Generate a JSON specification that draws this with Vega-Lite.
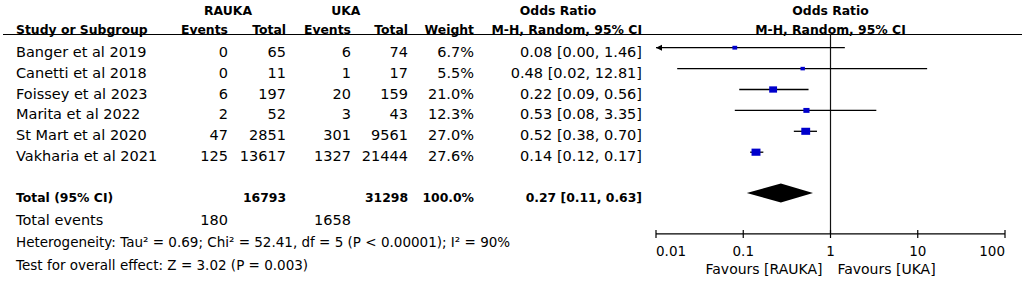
{
  "$schema": "https://vega.github.io/schema/vega-lite/v6.json",
  "width": 1022,
  "height": 283,
  "padding": 0,
  "autosize": "none",
  "background": "white",
  "config": {
    "view": {"stroke": null},
    "mark": {"color": "black"},
    "text": {"font": "DejaVu Sans", "fontSize": 14.5, "baseline": "middle", "dy": 5, "color": "black"},
    "rule": {"color": "black", "strokeWidth": 1.2}
  },
  "datasets": {
    "studies": [
      {"row": 1, "study": "Banger et al 2019", "e1": 0, "n1": 65, "e2": 6, "n2": 74, "weight": 0.067, "or": 0.08, "lo": 0.004, "hi": 1.46, "ci": "0.08 [0.00, 1.46]"},
      {"row": 2, "study": "Canetti et al 2018", "e1": 0, "n1": 11, "e2": 1, "n2": 17, "weight": 0.055, "or": 0.48, "lo": 0.0175, "hi": 12.81, "ci": "0.48 [0.02, 12.81]"},
      {"row": 3, "study": "Foissey et al 2023", "e1": 6, "n1": 197, "e2": 20, "n2": 159, "weight": 0.21, "or": 0.22, "lo": 0.09, "hi": 0.56, "ci": "0.22 [0.09, 0.56]"},
      {"row": 4, "study": "Marita et al 2022", "e1": 2, "n1": 52, "e2": 3, "n2": 43, "weight": 0.123, "or": 0.53, "lo": 0.08, "hi": 3.35, "ci": "0.53 [0.08, 3.35]"},
      {"row": 5, "study": "St Mart et al 2020", "e1": 47, "n1": 2851, "e2": 301, "n2": 9561, "weight": 0.27, "or": 0.52, "lo": 0.38, "hi": 0.70, "ci": "0.52 [0.38, 0.70]"},
      {"row": 6, "study": "Vakharia et al 2021", "e1": 125, "n1": 13617, "e2": 1327, "n2": 21444, "weight": 0.276, "or": 0.14, "lo": 0.12, "hi": 0.17, "ci": "0.14 [0.12, 0.17]"}
    ],
    "pooled": [
      {"row": 8, "label": "Total (95% CI)", "n1": 16793, "n2": 31298, "weight": 1.0, "or": 0.27, "lo": 0.11, "hi": 0.63, "ci": "0.27 [0.11, 0.63]"}
    ],
    "events": [
      {"row": 9, "label": "Total events", "e1": 180, "e2": 1658}
    ],
    "notes": [
      {"row": 10, "label": "Heterogeneity: Tau² = 0.69; Chi² = 52.41, df = 5 (P < 0.00001); I² = 90%"},
      {"row": 11, "label": "Test for overall effect: Z = 3.02 (P = 0.003)"}
    ],
    "groupHeaders": [
      {"row": -1, "col": 1, "label": "RAUKA"},
      {"row": -1, "col": 2.92, "label": "UKA"},
      {"row": -1, "col": 5.5, "label": "Odds Ratio"}
    ],
    "colHeaders": [
      {"row": 0, "col": 1, "label": "Events"},
      {"row": 0, "col": 2, "label": "Total"},
      {"row": 0, "col": 3, "label": "Events"},
      {"row": 0, "col": 4, "label": "Total"},
      {"row": 0, "col": 5, "label": "Weight"},
      {"row": 0, "col": 6, "label": "M-H, Random, 95% CI"}
    ],
    "rowHeaders": [
      {"row": 0, "label": "Study or Subgroup"}
    ],
    "plotHeaders": [
      {"row": -1, "label": "Odds Ratio"},
      {"row": 0, "label": "M-H, Random, 95% CI"}
    ],
    "nullLine": [{"or": 1}],
    "axisLine": [{"from": 0.01, "to": 100}],
    "ticks": [{"v": 0.01}, {"v": 0.1}, {"v": 1}, {"v": 10}, {"v": 100}],
    "favours": [
      {"side": "RAUKA", "label": "Favours [RAUKA]"},
      {"side": "UKA", "label": "Favours [UKA]"}
    ]
  },
  "resolve": {"scale": {"x": "independent"}},
  "layer": [
    {
      "layer": [
        {
          "data": {"name": "groupHeaders"},
          "mark": {"type": "text", "align": "center", "fontWeight": "bold", "fontSize": 12.4},
          "encoding": {
            "x": {"field": "col", "type": "quantitative", "axis": null, "scale": {"domain": [-1, 0, 1, 2, 3, 4, 5, 6, 7], "range": [3, 16, 228, 286, 351, 408, 474, 642, 1022], "zero": false, "nice": false}},
            "y": {"field": "row", "type": "quantitative", "axis": null, "scale": {"domain": [-1, 0, 0.5, 1, 6, 8, 11], "range": [5.5, 24.5, 34.5, 47.7, 152.2, 193, 260.5], "zero": false, "nice": false}},
            "text": {"field": "label", "type": "nominal"}
          }
        },
        {
          "data": {"name": "colHeaders"},
          "mark": {"type": "text", "align": "right", "fontWeight": "bold", "fontSize": 12.4},
          "encoding": {
            "x": {"field": "col", "type": "quantitative", "axis": null},
            "y": {"field": "row", "type": "quantitative", "axis": null},
            "text": {"field": "label", "type": "nominal"}
          }
        },
        {
          "data": {"name": "rowHeaders"},
          "mark": {"type": "text", "align": "left", "fontWeight": "bold", "fontSize": 12.4},
          "encoding": {
            "x": {"datum": 0, "axis": null},
            "y": {"field": "row", "type": "quantitative", "axis": null},
            "text": {"field": "label", "type": "nominal"}
          }
        },
        {
          "data": {"name": "studies"},
          "mark": {"type": "text", "align": "left"},
          "encoding": {
            "x": {"datum": 0, "axis": null},
            "y": {"field": "row", "type": "quantitative", "axis": null},
            "text": {"field": "study", "type": "nominal"}
          }
        },
        {
          "data": {"name": "studies"},
          "mark": {"type": "text", "align": "right"},
          "encoding": {
            "x": {"datum": 1, "axis": null},
            "y": {"field": "row", "type": "quantitative", "axis": null},
            "text": {"field": "e1", "type": "nominal"}
          }
        },
        {
          "data": {"name": "studies"},
          "mark": {"type": "text", "align": "right"},
          "encoding": {
            "x": {"datum": 2, "axis": null},
            "y": {"field": "row", "type": "quantitative", "axis": null},
            "text": {"field": "n1", "type": "nominal"}
          }
        },
        {
          "data": {"name": "studies"},
          "mark": {"type": "text", "align": "right"},
          "encoding": {
            "x": {"datum": 3, "axis": null},
            "y": {"field": "row", "type": "quantitative", "axis": null},
            "text": {"field": "e2", "type": "nominal"}
          }
        },
        {
          "data": {"name": "studies"},
          "mark": {"type": "text", "align": "right"},
          "encoding": {
            "x": {"datum": 4, "axis": null},
            "y": {"field": "row", "type": "quantitative", "axis": null},
            "text": {"field": "n2", "type": "nominal"}
          }
        },
        {
          "data": {"name": "studies"},
          "mark": {"type": "text", "align": "right"},
          "encoding": {
            "x": {"datum": 5, "axis": null},
            "y": {"field": "row", "type": "quantitative", "axis": null},
            "text": {"field": "weight", "type": "quantitative", "format": ".1%"}
          }
        },
        {
          "data": {"name": "studies"},
          "mark": {"type": "text", "align": "right"},
          "encoding": {
            "x": {"datum": 6, "axis": null},
            "y": {"field": "row", "type": "quantitative", "axis": null},
            "text": {"field": "ci", "type": "nominal"}
          }
        },
        {
          "data": {"name": "pooled"},
          "mark": {"type": "text", "align": "left", "fontWeight": "bold", "fontSize": 12.4},
          "encoding": {
            "x": {"datum": 0, "axis": null},
            "y": {"field": "row", "type": "quantitative", "axis": null},
            "text": {"field": "label", "type": "nominal"}
          }
        },
        {
          "data": {"name": "pooled"},
          "mark": {"type": "text", "align": "right", "fontWeight": "bold", "fontSize": 12.4},
          "encoding": {
            "x": {"datum": 2, "axis": null},
            "y": {"field": "row", "type": "quantitative", "axis": null},
            "text": {"field": "n1", "type": "nominal"}
          }
        },
        {
          "data": {"name": "pooled"},
          "mark": {"type": "text", "align": "right", "fontWeight": "bold", "fontSize": 12.4},
          "encoding": {
            "x": {"datum": 4, "axis": null},
            "y": {"field": "row", "type": "quantitative", "axis": null},
            "text": {"field": "n2", "type": "nominal"}
          }
        },
        {
          "data": {"name": "pooled"},
          "mark": {"type": "text", "align": "right", "fontWeight": "bold", "fontSize": 12.4},
          "encoding": {
            "x": {"datum": 5, "axis": null},
            "y": {"field": "row", "type": "quantitative", "axis": null},
            "text": {"field": "weight", "type": "quantitative", "format": ".1%"}
          }
        },
        {
          "data": {"name": "pooled"},
          "mark": {"type": "text", "align": "right", "fontWeight": "bold", "fontSize": 12.4},
          "encoding": {
            "x": {"datum": 6, "axis": null},
            "y": {"field": "row", "type": "quantitative", "axis": null},
            "text": {"field": "ci", "type": "nominal"}
          }
        },
        {
          "data": {"name": "events"},
          "mark": {"type": "text", "align": "left"},
          "encoding": {
            "x": {"datum": 0, "axis": null},
            "y": {"field": "row", "type": "quantitative", "axis": null},
            "text": {"field": "label", "type": "nominal"}
          }
        },
        {
          "data": {"name": "events"},
          "mark": {"type": "text", "align": "right"},
          "encoding": {
            "x": {"datum": 1, "axis": null},
            "y": {"field": "row", "type": "quantitative", "axis": null},
            "text": {"field": "e1", "type": "nominal"}
          }
        },
        {
          "data": {"name": "events"},
          "mark": {"type": "text", "align": "right"},
          "encoding": {
            "x": {"datum": 3, "axis": null},
            "y": {"field": "row", "type": "quantitative", "axis": null},
            "text": {"field": "e2", "type": "nominal"}
          }
        },
        {
          "data": {"name": "notes"},
          "mark": {"type": "text", "align": "left", "fontSize": 13.5},
          "encoding": {
            "x": {"datum": 0, "axis": null},
            "y": {"field": "row", "type": "quantitative", "axis": null},
            "text": {"field": "label", "type": "nominal"}
          }
        },
        {
          "data": {"values": [{"line": "header"}]},
          "mark": {"type": "rule", "strokeWidth": 1.2},
          "encoding": {
            "x": {"datum": -1, "axis": null},
            "x2": {"datum": 7},
            "y": {"datum": 0.5, "axis": null}
          }
        }
      ]
    },
    {
      "layer": [
        {
          "data": {"name": "nullLine"},
          "mark": {"type": "rule", "strokeWidth": 1.2, "color": "#111"},
          "encoding": {
            "x": {"field": "or", "type": "quantitative", "axis": null, "scale": {"type": "log", "domain": [0.01, 100], "range": [656, 1005], "clamp": true, "nice": false}},
            "y": {"datum": 0.5, "axis": null},
            "y2": {"datum": 9.82}
          }
        },
        {
          "data": {"name": "axisLine"},
          "mark": {"type": "rule", "strokeWidth": 1.2},
          "encoding": {
            "x": {"field": "from", "type": "quantitative", "axis": null},
            "x2": {"field": "to"},
            "y": {"datum": 9.82, "axis": null}
          }
        },
        {
          "data": {"name": "ticks"},
          "mark": {"type": "rule", "strokeWidth": 1.2},
          "encoding": {
            "x": {"field": "v", "type": "quantitative", "axis": null},
            "y": {"datum": 9.644, "axis": null},
            "y2": {"datum": 10.0}
          }
        },
        {
          "data": {"name": "ticks"},
          "transform": [{"filter": "datum.v === 0.01"}],
          "mark": {"type": "text", "align": "left", "fontSize": 13.5},
          "encoding": {
            "x": {"field": "v", "type": "quantitative", "axis": null},
            "y": {"datum": 10.39, "axis": null},
            "text": {"field": "v", "type": "quantitative", "format": "~g"}
          }
        },
        {
          "data": {"name": "ticks"},
          "transform": [{"filter": "datum.v > 0.01 && datum.v < 100"}],
          "mark": {"type": "text", "align": "center", "fontSize": 13.5},
          "encoding": {
            "x": {"field": "v", "type": "quantitative", "axis": null},
            "y": {"datum": 10.39, "axis": null},
            "text": {"field": "v", "type": "quantitative", "format": "~g"}
          }
        },
        {
          "data": {"name": "ticks"},
          "transform": [{"filter": "datum.v === 100"}],
          "mark": {"type": "text", "align": "right", "fontSize": 13.5},
          "encoding": {
            "x": {"field": "v", "type": "quantitative", "axis": null},
            "y": {"datum": 10.39, "axis": null},
            "text": {"field": "v", "type": "quantitative", "format": "~g"}
          }
        },
        {
          "data": {"name": "studies"},
          "mark": {"type": "rule", "strokeWidth": 1.3},
          "encoding": {
            "x": {"field": "lo", "type": "quantitative", "axis": null},
            "x2": {"field": "hi"},
            "y": {"field": "row", "type": "quantitative", "axis": null}
          }
        },
        {
          "data": {"name": "studies"},
          "transform": [{"filter": "datum.lo < 0.01"}],
          "mark": {"type": "point", "shape": "M0,0L2,-1L2,1Z", "filled": true, "opacity": 1, "color": "black", "size": 36},
          "encoding": {
            "x": {"field": "lo", "type": "quantitative", "axis": null},
            "y": {"field": "row", "type": "quantitative", "axis": null}
          }
        },
        {
          "data": {"name": "studies"},
          "mark": {"type": "point", "shape": "M-1,-0.8L1,-0.8L1,0.8L-1,0.8Z", "filled": true, "opacity": 1, "color": "#0000CC"},
          "encoding": {
            "x": {"field": "or", "type": "quantitative", "axis": null},
            "y": {"field": "row", "type": "quantitative", "axis": null},
            "size": {"field": "weight", "type": "quantitative", "legend": null, "scale": {"domain": [0.05, 0.276], "range": [18, 80], "zero": false}}
          }
        },
        {
          "data": {"name": "pooled"},
          "mark": {"type": "point", "shape": "M-1.066,0L0,-0.297L1.003,0L0,0.297Z", "filled": true, "opacity": 1, "color": "black", "size": 4096},
          "encoding": {
            "x": {"field": "or", "type": "quantitative", "axis": null},
            "y": {"field": "row", "type": "quantitative", "axis": null}
          }
        },
        {
          "data": {"name": "plotHeaders"},
          "mark": {"type": "text", "align": "center", "fontWeight": "bold", "fontSize": 12.4},
          "encoding": {
            "x": {"datum": 1, "axis": null},
            "y": {"field": "row", "type": "quantitative", "axis": null},
            "text": {"field": "label", "type": "nominal"}
          }
        },
        {
          "data": {"name": "favours"},
          "transform": [{"filter": "datum.side === 'RAUKA'"}],
          "mark": {"type": "text", "align": "right", "fontSize": 14},
          "encoding": {
            "x": {"datum": 0.81, "axis": null},
            "y": {"datum": 11.2, "axis": null},
            "text": {"field": "label", "type": "nominal"}
          }
        },
        {
          "data": {"name": "favours"},
          "transform": [{"filter": "datum.side === 'UKA'"}],
          "mark": {"type": "text", "align": "left", "fontSize": 14},
          "encoding": {
            "x": {"datum": 1.2, "axis": null},
            "y": {"datum": 11.2, "axis": null},
            "text": {"field": "label", "type": "nominal"}
          }
        }
      ]
    }
  ]
}
